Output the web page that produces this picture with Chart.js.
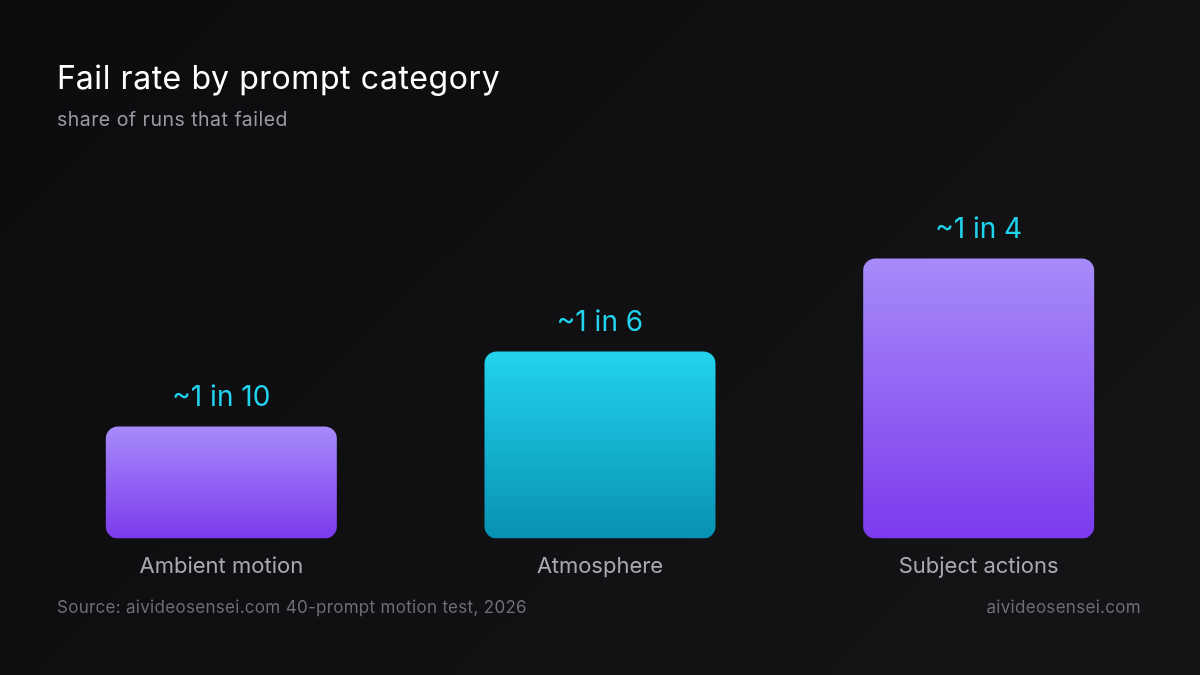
<!DOCTYPE html>
<html>
<head>
<meta charset="utf-8">
<script src="https://cdn.jsdelivr.net/npm/chart.js@4.4.1/dist/chart.umd.min.js"></script>
<style>
  html, body { margin: 0; padding: 0; }
  body {
    width: 1200px; height: 675px; overflow: hidden;
    background: linear-gradient(135deg, #0c0c0e 0%, #101012 50%, #151517 100%);
    font-family: Inter, "Noto Sans", sans-serif;
    position: relative;
  }
  #wrap { position: absolute; left: 0; top: 0; width: 1200px; height: 675px; }
  .title { position: absolute; left: 57px; top: 58px; color: #ffffff; font-size: 32px; font-weight: 400; letter-spacing: 0.6px; }
  .subtitle { position: absolute; left: 57px; top: 107px; color: #9a9aa2; font-size: 19.5px; letter-spacing: 0.5px; }
  .source { position: absolute; left: 57px; top: 597px; color: #6e6e74; font-size: 17px; letter-spacing: 0.3px; }
  .site { position: absolute; right: 59px; top: 597px; color: #6e6e74; font-size: 17px; letter-spacing: 0.3px; }
</style>
</head>
<body>
<div id="wrap"><canvas id="chart" width="1200" height="675"></canvas></div>
<div class="title">Fail rate by prompt category</div>
<div class="subtitle">share of runs that failed</div>
<div class="source">Source: aivideosensei.com 40-prompt motion test, 2026</div>
<div class="site">aivideosensei.com</div>
<script>
// Data
const categories = ["Ambient motion", "Atmosphere", "Subject actions"];
const failRates = [10, 16.7, 25]; // percent of runs
const rateLabels = ["~1 in 10", "~1 in 6", "~1 in 4"];
const topColors = ["#a78bfa", "#22d3ee", "#a78bfa"];
const bottomColors = ["#7c3aed", "#0891b2", "#7c3aed"];

// gradient per bar, from bar top down to the base
function barGradient(context) {
  const chart = context.chart;
  if (!chart.chartArea) return topColors[context.dataIndex];
  const i = context.dataIndex;
  const y = chart.scales.y;
  const g = chart.ctx.createLinearGradient(0, y.getPixelForValue(failRates[i]), 0, y.getPixelForValue(0));
  g.addColorStop(0, topColors[i]);
  g.addColorStop(1, bottomColors[i]);
  return g;
}

// value labels above the bars
const valueLabels = {
  id: "valueLabels",
  afterDatasetsDraw(chart) {
    const { ctx } = chart;
    const meta = chart.getDatasetMeta(0);
    ctx.save();
    ctx.fillStyle = "#22d3ee";
    ctx.font = "28px Inter, 'Noto Sans', sans-serif";
    ctx.textAlign = "center";
    ctx.textBaseline = "middle";
    meta.data.forEach((bar, i) => {
      ctx.fillText(rateLabels[i], bar.x, bar.y - 29);
    });
    ctx.restore();
  },
};

const ctx = document.getElementById("chart");
new Chart(ctx, {
  type: "bar",
  data: {
    labels: categories,
    datasets: [{
      data: failRates,
      backgroundColor: barGradient,
      borderRadius: 12,
      borderSkipped: false,
      barPercentage: 0.61,
      categoryPercentage: 1,
    }],
  },
  options: {
    responsive: false,
    animation: false,
    devicePixelRatio: 1,
    layout: { padding: { left: 32, right: 32, top: 180, bottom: 88 } },
    plugins: {
      legend: { display: false },
      tooltip: { enabled: false },
    },
    scales: {
      x: {
        grid: { display: false },
        border: { display: false },
        ticks: {
          color: "#a8a8b0",
          padding: 7,
          font: { family: "Inter, 'Noto Sans', sans-serif", size: 22 },
        },
      },
      y: {
        display: false,
        min: 0,
        max: 32,
      },
    },
  },
  plugins: [valueLabels],
});
</script>
</body>
</html>
